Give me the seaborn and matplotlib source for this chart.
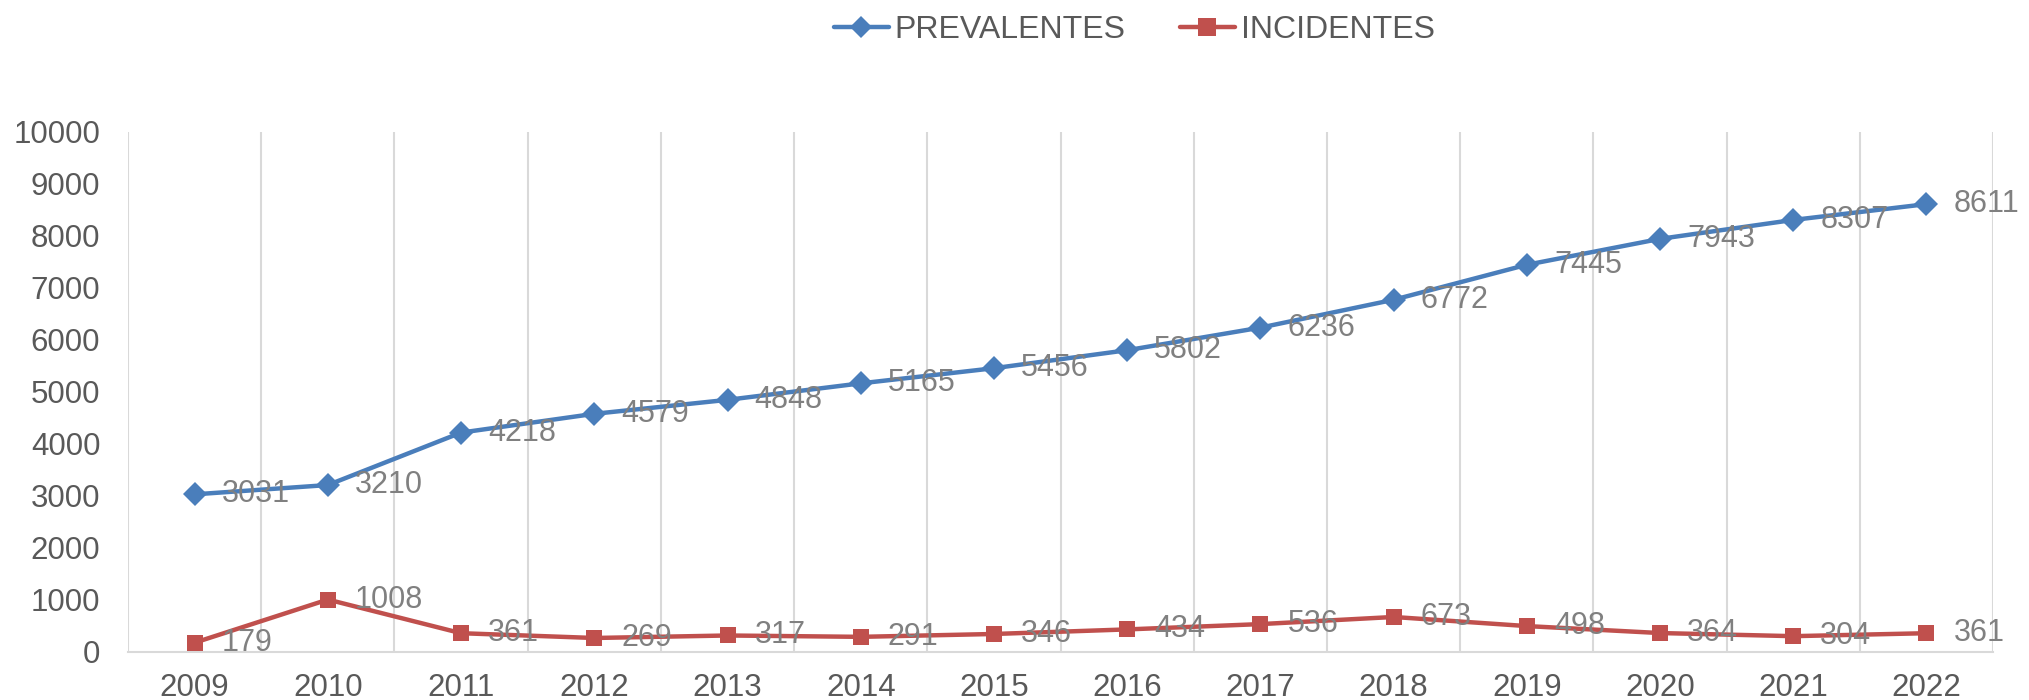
import matplotlib
matplotlib.use("Agg")
import matplotlib.pyplot as plt
import seaborn as sns
import pandas as pd
from matplotlib.lines import Line2D

years = ["2009", "2010", "2011", "2012", "2013", "2014", "2015", "2016", "2017",
         "2018", "2019", "2020", "2021", "2022"]
prevalentes = [3031, 3210, 4218, 4579, 4848, 5165, 5456, 5802, 6236, 6772, 7445, 7943, 8307, 8611]
incidentes = [179, 1008, 361, 269, 317, 291, 346, 434, 536, 673, 498, 364, 304, 361]
series_names = ["PREVALENTES", "INCIDENTES"]
colors = ["#4A7EBB", "#C0504D"]
y_ticks = list(range(0, 10001, 1000))

sns.set_theme(style="white")
plt.rcParams['font.family'] = ['Liberation Sans', 'DejaVu Sans']

df = pd.DataFrame({
    "year": years * 2,
    "idx": list(range(len(years))) * 2,
    "value": prevalentes + incidentes,
    "serie": [series_names[0]] * len(years) + [series_names[1]] * len(years),
})

fig = plt.figure(figsize=(20.29, 7.0), dpi=100)
ax = fig.add_axes([0.0631, 0.0686, 0.9192, 0.743])

sns.lineplot(data=df, x="idx", y="value", hue="serie", style="serie",
             markers={"PREVALENTES": "D", "INCIDENTES": "s"}, dashes=False,
             palette=colors, linewidth=3.2, markersize=12, markeredgewidth=0,
             ax=ax, legend=False, zorder=3)

# data labels
for vals in (prevalentes, incidentes):
    for i, v in enumerate(vals):
        ax.annotate(str(v), (i, v), xytext=(19.5, 0), textcoords="offset points",
                    ha="left", va="center", fontsize=22, color="#808080", zorder=4)

ax.set_xlim(-0.5, len(years) - 0.5)
ax.set_ylim(0, 10000)
ax.set_yticks(y_ticks)
ax.set_yticklabels([str(t) for t in y_ticks], fontsize=22.5, color="#595959")
ax.set_xticks(range(len(years)))
ax.set_xticklabels(years, fontsize=22.5, color="#595959")
ax.tick_params(axis="y", length=0, pad=20)
ax.tick_params(axis="x", length=0, pad=15)
ax.set_xlabel("")
ax.set_ylabel("")

# vertical gridlines at category boundaries
for b in [i - 0.5 for i in range(len(years) + 1)]:
    ax.axvline(b, color="#D9D9D9", linewidth=1.5, zorder=0)

for s in ["top", "right", "left"]:
    ax.spines[s].set_visible(False)
ax.spines["bottom"].set_color("#D9D9D9")
ax.spines["bottom"].set_linewidth(1.5)

handles = [Line2D([0], [0], color=colors[0], marker="D", markersize=11, linewidth=3.2, markeredgewidth=0),
           Line2D([0], [0], color=colors[1], marker="s", markersize=13, linewidth=3.2, markeredgewidth=0)]
leg = fig.legend(handles, series_names, loc="center", bbox_to_anchor=(0.559, 0.957), ncol=2,
                 frameon=False, fontsize=23, handlelength=1.72, handletextpad=0.19,
                 columnspacing=1.69)
for t in leg.get_texts():
    t.set_color("#595959")

fig.savefig("out.png", dpi=100)
